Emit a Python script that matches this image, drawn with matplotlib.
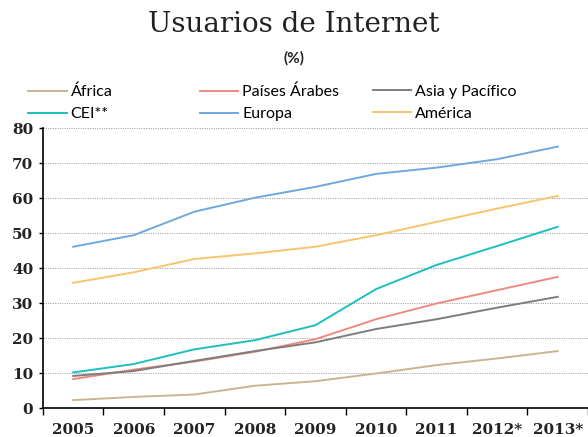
import matplotlib.pyplot as plt
from matplotlib.lines import Line2D
import numpy as np

# data (%)
years = ["2005", "2006", "2007", "2008", "2009", "2010", "2011", "2012*", "2013*"]
africa = [2.3, 3.2, 3.9, 6.4, 7.7, 9.9, 12.3, 14.2, 16.3]
arabes = [8.3, 11.0, 13.3, 16.1, 19.7, 25.4, 29.9, 33.7, 37.5]
asia = [9.2, 10.6, 13.5, 16.3, 18.8, 22.6, 25.4, 28.7, 31.8]
cei = [10.2, 12.6, 16.8, 19.4, 23.7, 34.0, 40.9, 46.3, 51.8]
europa = [46.1, 49.4, 56.1, 60.1, 63.2, 66.9, 68.7, 71.1, 74.7]
america = [35.8, 38.8, 42.6, 44.2, 46.1, 49.4, 53.2, 57.0, 60.6]

names = ["África", "Países Árabes", "Asia y Pacífico", "CEI**", "Europa", "América"]
series = [africa, arabes, asia, cei, europa, america]
colors = ["#c9b591", "#ef8a80", "#7d7d7d", "#1dbfbf", "#6ea8dc", "#f9c46c"]

fig = plt.figure(figsize=(5.88, 4.37), dpi=100)
ax = fig.add_axes([0.073, 0.066, 0.927, 0.641])

x = np.arange(len(years))
for vals, col, name in zip(series, colors, names):
    ax.plot(x, vals, color=col, lw=1.4, label=name)

ax.set_xlim(-0.5, len(years) - 0.5)
ax.set_ylim(0, 80)
ax.set_yticks(range(0, 90, 10))
ax.yaxis.grid(True, linestyle=(0, (1.2, 1.6)), color="#8a8a8a", lw=0.6)
ax.set_axisbelow(True)

# category boundaries get the ticks, labels sit in the middle
ax.set_xticks(np.arange(-0.5, len(years), 1.0))
ax.set_xticklabels([])
ax.set_xticks(x, minor=True)
ax.set_xticklabels(years, minor=True)
ax.tick_params(axis="x", which="major", length=5, width=1, direction="out")
ax.tick_params(axis="x", which="minor", length=0, pad=11)
ax.tick_params(axis="y", length=3, width=1, pad=4)

for lab in ax.get_xticklabels(minor=True) + ax.get_yticklabels():
    lab.set_fontfamily("DejaVu Serif")
    lab.set_fontweight("bold")
    lab.set_fontsize(11)
    lab.set_color("#222222")

for side in ["top", "right"]:
    ax.spines[side].set_visible(False)
ax.spines["left"].set_linewidth(1.2)
ax.spines["bottom"].set_linewidth(1.2)

fig.text(0.5, 0.945, "Usuarios de Internet", ha="center", va="center",
         fontsize=20, family="DejaVu Serif", color="#222222")
fig.text(0.5, 0.866, "(%)", ha="center", va="center", fontsize=11,
         fontweight="bold", family="Lato", color="#222222")

# legend: three columns placed by hand
col_x = [0.048, 0.34, 0.634]
for i, cx in enumerate(col_x):
    handles = [Line2D([], [], color=colors[i], lw=1.4),
               Line2D([], [], color=colors[i + 3], lw=1.4)]
    labels = [names[i], names[i + 3]]
    fig.legend(handles, labels, loc="upper left", bbox_to_anchor=(cx, 0.806),
               frameon=False, handlelength=2.4, handletextpad=0.25,
               labelspacing=0.48, borderpad=0, borderaxespad=0,
               prop={"family": "Lato", "size": 11.5})

fig.savefig("out.png", dpi=100)
